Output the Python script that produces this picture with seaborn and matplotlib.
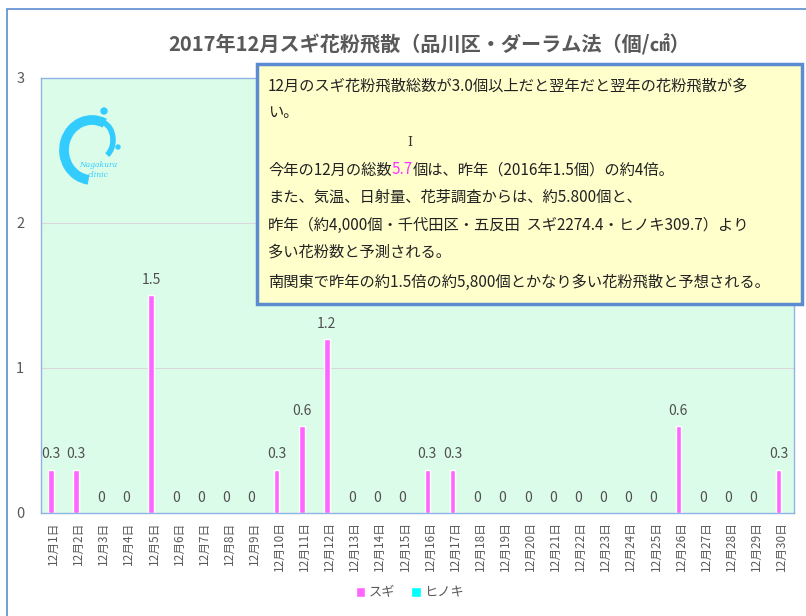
import pandas as pd
import matplotlib.pyplot as plt
import seaborn as sns
from matplotlib.patches import Rectangle, FancyBboxPatch, Arc, Ellipse
from matplotlib.text import Annotation

# data
days = [f"12月{i}日" for i in range(1, 31)]
sugi = [0.3, 0.3, 0, 0, 1.5, 0, 0, 0, 0, 0.3,
        0.6, 1.2, 0, 0, 0, 0.3, 0.3, 0, 0, 0,
        0, 0, 0, 0, 0, 0.6, 0, 0, 0, 0.3]
hinoki = [0] * 30
species = ["スギ", "ヒノキ"]
colors = ["#FF66FF", "#00FFFF"]

title = "2017年12月スギ花粉飛散（品川区・ダーラム法（個/㎠）"
note_lines = [
    "12月のスギ花粉飛散総数が3.0個以上だと翌年だと翌年の花粉飛散が多",
    "い。",
    None,
    "今年の12月の総数|5.7|個は、昨年（2016年1.5個）の約4倍。",
    "また、気温、日射量、花芽調査からは、約5.800個と、",
    "昨年（約4,000個・千代田区・五反田  スギ2274.4・ヒノキ309.7）より",
    "多い花粉数と予測される。",
    "南関東で昨年の約1.5倍の約5,800個とかなり多い花粉飛散と予想される。",
]

df = pd.DataFrame({
    "day": days * 2,
    "value": sugi + hinoki,
    "species": [species[0]] * 30 + [species[1]] * 30,
})

sns.set_theme(style="white")
plt.rcParams['font.family'] = ['Noto Sans CJK JP', 'DejaVu Sans']

W, H = 806, 616
fig = plt.figure(figsize=(W / 100, H / 100), dpi=100)
grey = "#595959"
blue = "#8FB4E3"


def fx(x):
    return x / W


def fy(y):
    return 1 - y / H


# outer chart border
fig.patches.append(Rectangle((fx(7), -0.05), 1.1, fy(9) + 0.05, transform=fig.transFigure,
                             fill=False, edgecolor="#5B8BD0", linewidth=1.2))

ax = fig.add_axes([fx(41), fy(513), (794 - 41) / W, (513 - 78) / H])
ax.set_facecolor("#DCFCEA")

sns.barplot(data=df, x="day", y="value", hue="species", hue_order=species,
            palette=colors, width=0.44, legend=False, ax=ax, saturation=1)

ax.set_ylim(0, 3)
ax.set_xlim(-0.5, 29.5)
ax.set_yticks([0, 1, 2, 3])
ax.yaxis.grid(True, color="#D9D9D9", linewidth=0.8)
ax.set_axisbelow(True)
ax.set_xlabel("")
ax.set_ylabel("")
ax.tick_params(axis="y", length=0, labelsize=10.5, labelcolor=grey, pad=12)
ax.tick_params(axis="x", length=0, labelsize=8.5, labelcolor=grey, rotation=90, pad=6)
ax.set_xticks(range(30))
ax.set_xticklabels(days)
ax.set_xticks([i - 0.5 for i in range(31)], minor=True)
ax.tick_params(axis="x", which="minor", length=4, color=blue, width=1)
for s in ax.spines.values():
    s.set_color(blue)
    s.set_linewidth(1)

# data labels for スギ
for i, v in enumerate(sugi):
    ax.annotate(f"{v:g}", (i - 0.11, v), xytext=(0, 6), textcoords="offset points",
                ha="center", va="bottom", fontsize=10, color="#505050")

fig.text(fx(429), fy(45), title, ha="center", va="center",
         fontsize=14.5, fontweight="bold", color=grey)

# rough logo: two dolphins and bubbles
logo = "#33CCFF"
fig.patches.append(Arc((fx(92), fy(150)), 56 / W, 60 / H, theta1=70, theta2=265,
                       transform=fig.transFigure, color=logo, linewidth=7))
fig.patches.append(Arc((fx(100), fy(140)), 26 / W, 36 / H, theta1=-70, theta2=80,
                       transform=fig.transFigure, color=logo, linewidth=4))
fig.patches.append(Ellipse((fx(104), fy(111)), 6 / W, 6 / H,
                           transform=fig.transFigure, color=logo))
fig.patches.append(Ellipse((fx(118), fy(147)), 4 / W, 4 / H,
                           transform=fig.transFigure, color=logo))
fig.text(fx(98), fy(170), "Nagakura\nclinic", ha="center", va="center",
         fontsize=5.5, color=logo, style="italic", family="DejaVu Serif", linespacing=1.3)

# note box
box = FancyBboxPatch((fx(257), fy(304)), (802 - 257) / W, (304 - 64) / H,
                     boxstyle="square,pad=0", transform=fig.transFigure,
                     facecolor="#FFFFCC", edgecolor="#5B8BD0", linewidth=2.5, zorder=5)
fig.patches.append(box)
ys = [86, 113, 142, 170, 197, 225, 252, 282]
fs = 11
for y, line in zip(ys, note_lines):
    if line is None:
        fig.text(fx(410), fy(y), "I", ha="center", va="center", fontsize=9,
                 color="#333333", family="DejaVu Serif", zorder=6)
        continue
    if "|" in line:
        parts = line.split("|")
        t = fig.text(fx(268), fy(y), parts[0], ha="left", va="center",
                     fontsize=fs, color="#222222", zorder=6)
        t2 = Annotation(parts[1], xy=(1, 0.5), xycoords=t, va="center", ha="left",
                        fontsize=fs, color="#FF33FF", zorder=6)
        fig.add_artist(t2)
        t3 = Annotation(parts[2], xy=(1, 0.5), xycoords=t2, va="center", ha="left",
                        fontsize=fs, color="#222222", zorder=6)
        fig.add_artist(t3)
    else:
        fig.text(fx(268), fy(y), line, ha="left", va="center",
                 fontsize=fs, color="#222222", zorder=6)

# legend
handles = [Rectangle((0, 0), 1, 1, facecolor=c) for c in colors]
fig.legend(handles, species, loc="center", bbox_to_anchor=(fx(410), fy(593)),
           ncol=2, frameon=False, fontsize=9.5, labelcolor=grey, handlelength=0.7,
           handleheight=0.7, handletextpad=0.3, columnspacing=1.2)

fig.savefig("out.png", dpi=100)
